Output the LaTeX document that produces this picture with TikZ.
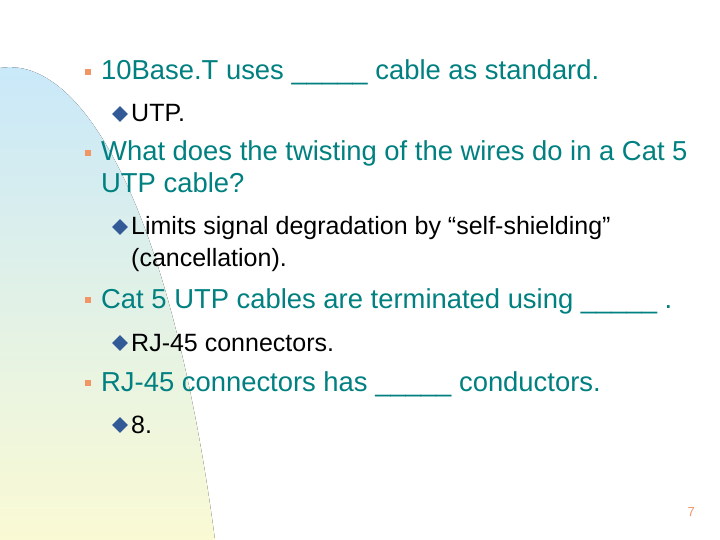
\documentclass[tikz,border=0pt]{standalone}
\usepackage{fontspec}
\setmainfont{Liberation Sans}
\definecolor{teal1}{RGB}{0,128,128}
\definecolor{bulor}{RGB}{240,150,100}
\definecolor{dblue}{RGB}{50,90,150}
\begin{document}
\begin{tikzpicture}[x=1pt,y=-1pt,
  mt/.style={anchor=base west,inner sep=0pt,text=teal1,font=\fontsize{27.4}{32}\selectfont},
  st/.style={anchor=base west,inner sep=0pt,text=black,font=\fontsize{25}{30}\selectfont},
  sq/.style={fill=bulor,minimum size=6.5pt,inner sep=0pt},
  dm/.style={fill=dblue,inner sep=0pt,rotate=45,minimum size=11pt}]
\useasboundingbox (0,0) rectangle (720,540);
\fill[white] (0,0) rectangle (720,540);
\fill[top color={rgb,255:red,200;green,232;blue,250}, bottom color={rgb,255:red,250;green,250;blue,212}]
  (0,68) .. controls (80,55) and (170,200) .. (215,540) -- (0,540) -- cycle;
\node[sq] (b1) at (88,72) {};
\node[mt] (t1) at (101,80) {10Base.T uses \_\_\_\_\_ cable as standard.};
\node[dm] (d1) at (120,114) {};
\node[st] (s1) at (131,122) {UTP.};
\node[sq] (b2) at (88,153) {};
\node[mt] (t2) at (101,161) {What does the twisting of the wires do in a Cat 5};
\node[mt] (t2b) at (101,193) {UTP cable?};
\node[dm] (d2) at (120,227) {};
\node[st] (s2) at (131,235) {Limits signal degradation by “self-shielding”};
\node[st] (s2b) at (131,266) {(cancellation).};
\node[sq] (b3) at (88,300) {};
\node[mt] (t3) at (101,308) {Cat 5 UTP cables are terminated using \_\_\_\_\_ .};
\node[dm] (d3) at (120,343) {};
\node[st] (s3) at (131,351) {RJ-45 connectors.};
\node[sq] (b4) at (88,383) {};
\node[mt] (t4) at (101,391) {RJ-45 connectors has \_\_\_\_\_ conductors.};
\node[dm] (d4) at (120,425) {};
\node[st] (s4) at (131,433) {8.};
\node[anchor=base east,inner sep=0pt,text=bulor,font=\fontsize{13}{15}\selectfont] (pg) at (695,516) {7};
\end{tikzpicture}
\end{document}
